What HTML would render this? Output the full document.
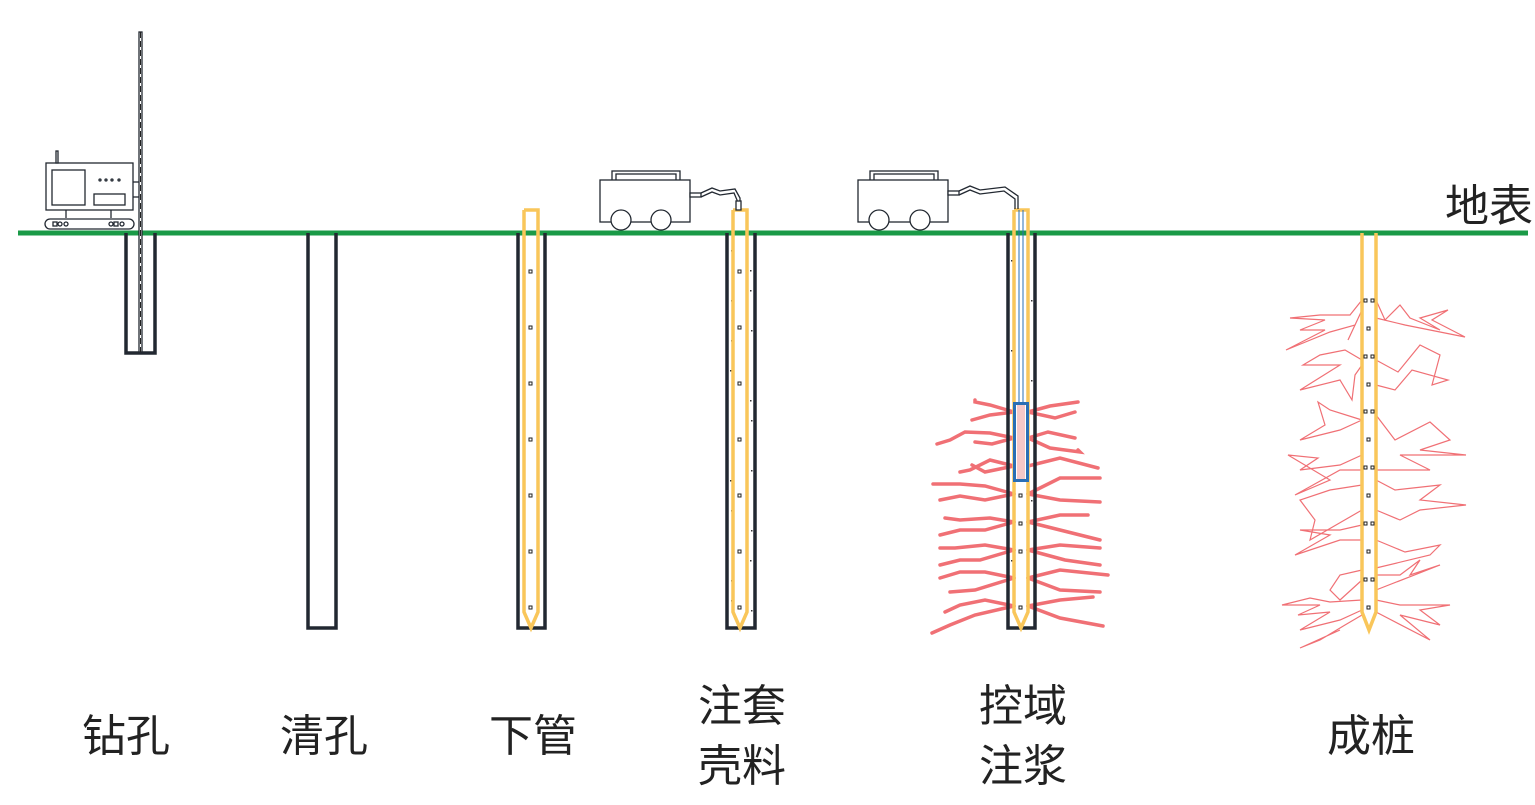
<!DOCTYPE html>
<html><head><meta charset="utf-8"><style>
html,body{margin:0;padding:0;background:#fff;}
svg{display:block}
text{font-family:"Liberation Sans","Noto Sans CJK SC",sans-serif;font-size:44px;fill:#222;}
</style></head><body>
<svg width="1535" height="805" viewBox="0 0 1535 805" xmlns="http://www.w3.org/2000/svg">
<g stroke="#f07075" stroke-width="3.5" fill="none" stroke-linecap="round">
<polyline points="1014,412 990,405 975,402 975,400"/>
<polyline points="1014,412 990,415 972,420"/>
<polyline points="1028,412 1050,406 1078,402"/>
<polyline points="1028,412 1055,418 1075,412"/>
<polyline points="1014,438 990,433 965,432 950,440 937,444"/>
<polyline points="1014,438 992,444 975,442"/>
<polyline points="1028,438 1048,432 1075,438"/>
<polyline points="1028,438 1050,448 1080,452 1078,450"/>
<polyline points="1014,466 990,460 970,470 960,472"/>
<polyline points="1014,466 985,472 972,465"/>
<polyline points="1028,466 1060,458 1098,468"/>
<polyline points="1014,494 985,486 960,484 933,484"/>
<polyline points="1014,494 985,500 960,496 940,500"/>
<polyline points="1028,494 1060,478 1100,478"/>
<polyline points="1028,494 1060,500 1100,502"/>
<polyline points="1014,522 990,518 960,520 945,518"/>
<polyline points="1014,522 985,530 960,530 940,535"/>
<polyline points="1028,522 1060,515 1088,515"/>
<polyline points="1028,522 1060,530 1100,540"/>
<polyline points="1014,550 985,545 955,548 940,548"/>
<polyline points="1014,550 980,560 960,560 940,565"/>
<polyline points="1028,550 1060,545 1100,548"/>
<polyline points="1028,550 1065,560 1100,565"/>
<polyline points="1014,578 985,572 960,572 940,578"/>
<polyline points="1014,578 975,590 950,592"/>
<polyline points="1028,578 1060,570 1108,575"/>
<polyline points="1028,578 1060,590 1100,592"/>
<polyline points="1014,606 985,600 960,605 945,612"/>
<polyline points="1014,606 975,615 950,625 932,633"/>
<polyline points="1028,606 1060,600 1093,597"/>
<polyline points="1028,606 1060,618 1103,626"/>
</g>
<g stroke="#f07075" stroke-width="1.2" fill="none">
<polyline points="1362,300 1350,315 1320,315 1290,318 1325,320 1300,330 1325,330 1286,350 1330,332 1355,325 1348,340 1362,310"/>
<polyline points="1376,300 1385,320 1400,305 1410,318 1440,330 1420,318 1448,310 1432,320 1465,337 1405,325 1376,318"/>
<polyline points="1362,360 1345,350 1320,355 1303,365 1340,365 1300,390 1340,380 1352,400 1355,375 1362,365"/>
<polyline points="1376,360 1398,372 1420,345 1440,355 1432,385 1448,380 1412,370 1395,390 1376,385"/>
<polyline points="1362,420 1340,430 1300,440 1325,425 1318,402 1330,410 1362,420"/>
<polyline points="1376,415 1395,440 1430,422 1450,440 1420,450 1466,455 1400,455 1430,470 1376,470"/>
<polyline points="1362,455 1340,465 1300,470 1318,458 1288,455 1330,480 1295,495 1340,470 1362,470"/>
<polyline points="1362,485 1330,490 1300,500 1315,520 1310,540 1362,510"/>
<polyline points="1376,480 1395,490 1440,485 1420,500 1466,505 1420,510 1400,520 1376,510"/>
<polyline points="1362,525 1340,530 1300,530 1330,535 1295,555 1340,540 1362,540"/>
<polyline points="1376,540 1405,552 1440,545 1430,555 1376,568"/>
<polyline points="1362,570 1340,575 1330,590 1340,600 1362,580"/>
<polyline points="1376,575 1400,575 1420,560 1410,575 1440,565 1376,590"/>
<polyline points="1362,600 1330,602 1310,598 1282,605 1320,605 1298,615 1330,612 1300,630 1340,620 1362,610"/>
<polyline points="1376,600 1400,605 1450,605 1420,610 1440,625 1400,615 1430,640 1376,612"/>
<polyline points="1362,615 1345,625 1320,640 1300,648 1340,630"/>
</g>
<line x1="18" y1="233" x2="1528" y2="233" stroke="#1a9a47" stroke-width="5"/>
<g stroke="#222831" stroke-width="3.5" fill="none">
<polyline points="126,233 126,353 155,353 155,233"/>
<polyline points="308,233 308,628 336,628 336,233"/>
<polyline points="518,233 518,628 545,628 545,233"/>
<polyline points="727,233 727,628 755,628 755,233"/>
<polyline points="1008,233 1008,628 1035,628 1035,233"/>
</g>
<g fill="#333">
<rect x="731" y="250" width="1.5" height="1.5"/><rect x="750" y="270" width="1.5" height="1.5"/><rect x="731" y="300" width="1.5" height="1.5"/><rect x="751" y="330" width="1.5" height="1.5"/><rect x="730" y="370" width="1.5" height="1.5"/><rect x="750" y="400" width="1.5" height="1.5"/><rect x="732" y="440" width="1.5" height="1.5"/><rect x="751" y="470" width="1.5" height="1.5"/><rect x="731" y="510" width="1.5" height="1.5"/><rect x="750" y="560" width="1.5" height="1.5"/><rect x="731" y="600" width="1.5" height="1.5"/>
<rect x="750" y="290" width="1.5" height="1.5"/><rect x="731" y="340" width="1.5" height="1.5"/><rect x="751" y="420" width="1.5" height="1.5"/><rect x="730" y="480" width="1.5" height="1.5"/><rect x="751" y="530" width="1.5" height="1.5"/><rect x="731" y="580" width="1.5" height="1.5"/><rect x="751" y="610" width="1.5" height="1.5"/>
<rect x="1011" y="260" width="1.5" height="1.5"/><rect x="1031" y="300" width="1.5" height="1.5"/><rect x="1011" y="350" width="1.5" height="1.5"/><rect x="1031" y="500" width="1.5" height="1.5"/><rect x="1031" y="380" width="1.5" height="1.5"/><rect x="1011" y="560" width="1.5" height="1.5"/>
</g>
<g stroke="#f9c65a" stroke-width="3.5" fill="none">
<polyline points="524,210 538,210 538,612 531,628 524,612 524,210"/>
<polyline points="733,210 747,210 747,612 740,628 733,612 733,210"/>
<polyline points="1014,210 1028,210 1028,612 1021,628 1014,612 1014,210"/>
<polyline points="1362,233 1362,612 1369,630 1376,612 1376,233"/>
</g>
<g fill="none" stroke="#222" stroke-width="1">
<rect x="529" y="270" width="3" height="3"/><rect x="529" y="326" width="3" height="3"/><rect x="529" y="382" width="3" height="3"/><rect x="529" y="438" width="3" height="3"/><rect x="529" y="494" width="3" height="3"/><rect x="529" y="550" width="3" height="3"/><rect x="529" y="606" width="3" height="3"/>
<rect x="738" y="270" width="3" height="3"/><rect x="738" y="326" width="3" height="3"/><rect x="738" y="382" width="3" height="3"/><rect x="738" y="438" width="3" height="3"/><rect x="738" y="494" width="3" height="3"/><rect x="738" y="550" width="3" height="3"/><rect x="738" y="606" width="3" height="3"/>
<rect x="1019" y="494" width="3" height="3"/><rect x="1019" y="522" width="3" height="3"/><rect x="1019" y="550" width="3" height="3"/><rect x="1019" y="606" width="3" height="3"/>
<rect x="1367" y="327" width="3" height="3"/><rect x="1367" y="383" width="3" height="3"/><rect x="1367" y="438" width="3" height="3"/><rect x="1367" y="494" width="3" height="3"/><rect x="1367" y="550" width="3" height="3"/><rect x="1367" y="606" width="3" height="3"/>
<rect x="1364" y="299" width="3" height="3"/><rect x="1371" y="299" width="3" height="3"/><rect x="1364" y="355" width="3" height="3"/><rect x="1371" y="355" width="3" height="3"/><rect x="1364" y="410" width="3" height="3"/><rect x="1371" y="410" width="3" height="3"/><rect x="1364" y="466" width="3" height="3"/><rect x="1371" y="466" width="3" height="3"/><rect x="1364" y="522" width="3" height="3"/><rect x="1371" y="522" width="3" height="3"/><rect x="1364" y="578" width="3" height="3"/><rect x="1371" y="578" width="3" height="3"/>
</g>
<rect x="1017" y="405" width="8" height="74" fill="#f5c8c8"/>
<rect x="1014.5" y="403.5" width="13" height="77" fill="none" stroke="#2a6fb5" stroke-width="3"/>
<line x1="1019" y1="210" x2="1019" y2="403" stroke="#2a6fb5" stroke-width="1"/>
<line x1="1023" y1="210" x2="1023" y2="403" stroke="#2a6fb5" stroke-width="1"/>
<g stroke="#222831" stroke-width="1.3" fill="#fff">
<rect x="46" y="163" width="87" height="47"/>
<rect x="52" y="170" width="33" height="35"/>
<rect x="94" y="194" width="31" height="11"/>
<rect x="56" y="151" width="2" height="12"/>
<line x1="66" y1="210" x2="66" y2="218"/><line x1="111" y1="210" x2="111" y2="218"/>
<rect x="45" y="219" width="89" height="10" rx="5"/>
<line x1="133" y1="182" x2="139" y2="182"/><line x1="133" y1="197" x2="139" y2="197"/>
<rect x="139" y="32" width="3" height="320"/>
<circle cx="100" cy="180" r="1"/><circle cx="106" cy="180" r="1"/><circle cx="112" cy="180" r="1"/><circle cx="119" cy="180" r="1"/>
<rect x="53" y="222" width="4" height="4"/><circle cx="60" cy="224" r="2"/><circle cx="66" cy="224" r="2"/>
<circle cx="111" cy="224" r="2"/><rect x="114" y="222" width="4" height="4"/><circle cx="122" cy="224" r="2"/>
</g>
<line x1="140.5" y1="32" x2="140.5" y2="352" stroke="#222" stroke-width="1" stroke-dasharray="6,3"/>
<g stroke="#222831" stroke-width="1.3" fill="#fff">
<rect x="612" y="171" width="68" height="10"/><rect x="616" y="174" width="60" height="7"/>
<rect x="600" y="180" width="90" height="42"/>
<circle cx="621" cy="220" r="10"/><circle cx="661" cy="220" r="10"/>
<rect x="690" y="193" width="11" height="4"/>
<path d="M701,193 L712,188 L720,191 L735,189 L740,198 L740,209 M701,197 L712,192 L720,195 L734,193 L737,200 L737,209" fill="none"/>
<rect x="736" y="201" width="5" height="9"/>
<rect x="870" y="171" width="68" height="10"/><rect x="874" y="174" width="60" height="7"/>
<rect x="858" y="180" width="90" height="42"/>
<circle cx="879" cy="220" r="10"/><circle cx="920" cy="220" r="10"/>
<rect x="948" y="191" width="11" height="4"/>
<path d="M959,191 L970,186 L980,190 L1005,187 L1018,196 L1018,209 M959,195 L970,190 L980,194 L1004,191 L1015,199 L1015,209" fill="none"/>
</g>
<text x="1445" y="221">地表</text>
<text x="82" y="751">钻孔</text>
<text x="280" y="751">清孔</text>
<text x="489" y="751">下管</text>
<text x="698" y="721">注套</text>
<text x="698" y="781">壳料</text>
<text x="979" y="721">控域</text>
<text x="979" y="781">注浆</text>
<text x="1327" y="751">成桩</text>
</svg>
</body></html>
